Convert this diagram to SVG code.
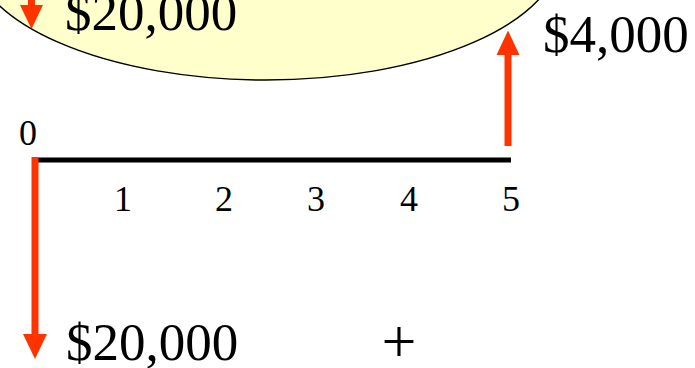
<svg xmlns="http://www.w3.org/2000/svg" width="695" height="368" viewBox="0 0 695 368">
<style>
.t{font-family:"Liberation Serif","Times New Roman",serif;fill:#000}
.big{font-size:53px}
.num{font-size:36px;text-anchor:middle}
.shaft{stroke:#FF3300;stroke-width:7;fill:none}
.head{fill:#FF3300}
</style>
<rect width="695" height="368" fill="#fff"/>
<g id="cloud">
<ellipse cx="266" cy="-50" rx="295" ry="130" fill="#FFFFCC" stroke="#000" stroke-width="1.5"/>
<text class="t big" x="65" y="30">$20,000</text>
</g>
<g id="connectors">
<line class="shaft" x1="31.5" y1="-10" x2="31.5" y2="6"/>
<polygon class="head" points="20,5 43,5 31.5,29"/>
<line x1="35" y1="160" x2="511" y2="160" stroke="#000" stroke-width="5"/>
<line class="shaft" x1="35" y1="157" x2="35" y2="336"/>
<polygon class="head" points="23,334 47,334 35,359"/>
<line class="shaft" x1="508" y1="146" x2="508" y2="53"/>
<polygon class="head" points="496.5,55 519.5,55 508,30.5"/>
</g>
<g id="labels">
<text class="t num" x="28" y="145">0</text>
<text class="t num" x="123" y="211">1</text>
<text class="t num" x="224" y="211">2</text>
<text class="t num" x="316" y="211">3</text>
<text class="t num" x="409" y="211">4</text>
<text class="t num" x="511" y="211">5</text>
<text class="t big" x="543" y="52">$4,000</text>
<text class="t big" x="66" y="360">$20,000</text>
<text class="t" x="399" y="362" font-size="62" text-anchor="middle">+</text>
</g>
</svg>
